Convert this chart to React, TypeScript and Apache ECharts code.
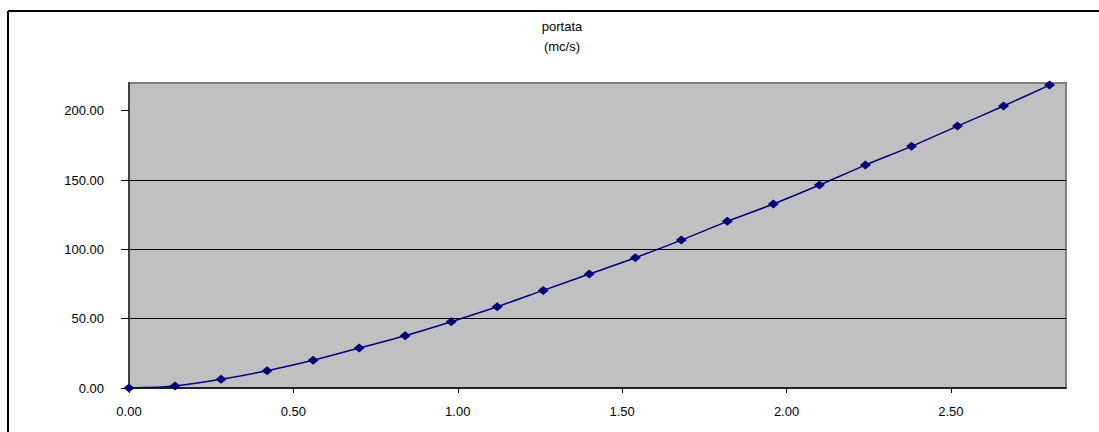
import React, { useEffect, useRef } from "react";
import * as echarts from "echarts";

const xValues = [0, 0.14, 0.28, 0.42, 0.56, 0.7, 0.84, 0.98, 1.12, 1.26, 1.4, 1.54, 1.68, 1.82, 1.96, 2.1, 2.24, 2.38, 2.52, 2.66, 2.8];
const yValues = [0, 1.4, 6.3, 12.5, 20.0, 28.8, 37.7, 47.8, 58.6, 70.4, 82.2, 94.0, 106.7, 120.2, 132.7, 146.4, 160.8, 174.3, 188.9, 203.4, 218.5];
const xTicks = [0, 0.5, 1, 1.5, 2, 2.5];
const yTicks = [0, 50, 100, 150, 200];
const titleLines = ["portata", "(mc/s)"];

const FONT = "'Liberation Sans', Arial, sans-serif";

export default function App() {
  const ref = useRef<HTMLDivElement>(null);
  useEffect(() => {
    if (!ref.current) return;
    const chart = echarts.init(ref.current, null, { renderer: "svg" });
    const data = xValues.map((x, i) => [x, yValues[i]]);
    chart.setOption({
      animation: false,
      backgroundColor: "#ffffff",
      grid: {
        left: 129,
        top: 83,
        right: 33,
        bottom: 44,
        show: true,
        backgroundColor: "#C0C0C0",
        borderColor: "#808080",
        borderWidth: 2,
      },
      graphic: [
        { type: "line", shape: { x1: 8, y1: 11, x2: 1099, y2: 11 }, style: { stroke: "#000", lineWidth: 2 } },
        { type: "line", shape: { x1: 8, y1: 11, x2: 8, y2: 432 }, style: { stroke: "#000", lineWidth: 2 } },
        {
          type: "text",
          x: 562,
          y: 26,
          style: { text: titleLines[0], align: "center", verticalAlign: "middle", font: `13px ${FONT}`, fill: "#000" },
        },
        {
          type: "text",
          x: 562,
          y: 46,
          style: { text: titleLines[1], align: "center", verticalAlign: "middle", font: `13px ${FONT}`, fill: "#000" },
        },
      ],
      xAxis: {
        type: "value",
        min: 0,
        max: 2.85,
        interval: 0.5,
        axisLine: { show: true, lineStyle: { color: "#000", width: 1.5 } },
        axisTick: { show: true, length: 5, inside: false, customValues: xTicks, lineStyle: { color: "#000" } },
        axisLabel: {
          customValues: xTicks,
          formatter: (v: number) => v.toFixed(2),
          color: "#000",
          fontFamily: FONT,
          fontSize: 13,
          margin: 17,
        },
        splitLine: { show: false },
      },
      yAxis: {
        type: "value",
        min: 0,
        max: 220,
        interval: 50,
        axisLine: { show: true, onZero: false, lineStyle: { color: "#404040", width: 2 } },
        axisTick: { show: true, length: 8, customValues: yTicks, lineStyle: { color: "#000" } },
        axisLabel: {
          customValues: yTicks,
          formatter: (v: number) => v.toFixed(2),
          color: "#000",
          fontFamily: FONT,
          fontSize: 13,
          margin: 25,
        },
        splitLine: { show: true, showMinLine: false, showMaxLine: false, lineStyle: { color: "#000", width: 1 } },
      },
      series: [
        {
          type: "line",
          data,
          smooth: 0.3,
          symbol: "diamond",
          symbolSize: [11, 9],
          itemStyle: { color: "#000080" },
          lineStyle: { color: "#000080", width: 1.5 },
        },
      ],
    });
    return () => chart.dispose();
  }, []);
  return <div ref={ref} style={{ position: "fixed", left: 0, top: 0, width: 1099, height: 432 }} />;
}
